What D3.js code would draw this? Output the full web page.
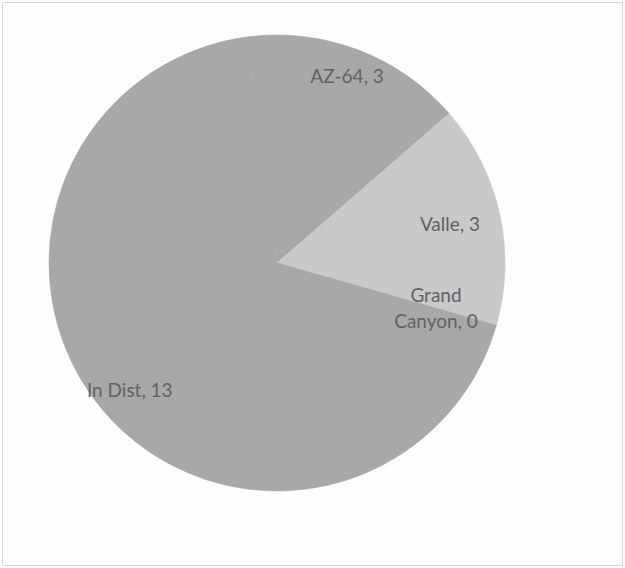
<!DOCTYPE html>
<html><head><meta charset="utf-8">
<script src="https://cdn.jsdelivr.net/npm/d3@7"></script>
<style>html,body{margin:0;padding:0;background:#fff;}svg{display:block;}</style>
</head><body>
<script>
const categories = ["AZ-64", "Valle", "Grand Canyon", "In Dist"];
const values = [3, 3, 0, 13];
const labelLines = [["AZ-64, 3"], ["Valle, 3"], ["Grand", "Canyon, 0"], ["In Dist, 13"]];

const W = 625, H = 568;
const cx = 277, cy = 263, R = 228;
const startDeg = -7.8;
const labelRadius = [0.873, 0.777, 0.725, 0.855];
const colors = d3.scaleOrdinal().domain(categories).range(["#a8a8a8", "#c9c9c9", "#bdbdbd", "#a8a8a8"]);

const svg = d3.select("body").append("svg").attr("width", W).attr("height", H);
svg.append("rect").attr("x", 0).attr("y", 0).attr("width", W).attr("height", H).attr("fill", "#fdfdfd");
svg.append("rect").attr("x", 2.5).attr("y", 2.5).attr("width", W - 5).attr("height", H - 5)
  .attr("fill", "none").attr("stroke", "#b0b0b0").attr("stroke-width", 1).attr("stroke-dasharray", "1,1");

const data = categories.map((c, i) => ({ cat: c, value: values[i], lines: labelLines[i], i }));
const pie = d3.pie().value(d => d.value).sort(null)
  .startAngle(startDeg * Math.PI / 180).endAngle(startDeg * Math.PI / 180 + 2 * Math.PI);
const arcs = pie(data);
const arc = d3.arc().innerRadius(0).outerRadius(R);

const g = svg.append("g").attr("transform", `translate(${cx},${cy})`);
g.selectAll("path").data(arcs).join("path")
  .attr("d", arc).attr("fill", d => colors(d.data.cat))
  .attr("stroke", d => colors(d.data.cat)).attr("stroke-width", 0.6);

const lab = g.selectAll("text.lbl").data(arcs).join("text").attr("class", "lbl")
  .attr("font-family", "Lato, 'Open Sans', sans-serif").attr("font-size", 19)
  .attr("fill", "#626262").attr("text-anchor", "middle")
  .attr("transform", d => {
    const a = (d.startAngle + d.endAngle) / 2;
    const r = R * labelRadius[d.data.i];
    return `translate(${r * Math.sin(a)},${-r * Math.cos(a)})`;
  });
lab.each(function(d) {
  const n = d.data.lines.length;
  d3.select(this).selectAll("tspan").data(d.data.lines).join("tspan")
    .attr("x", 0).attr("y", (t, k) => (k - (n - 1) / 2) * 26).attr("dy", "0.35em").text(t => t);
});
</script>
</body></html>
